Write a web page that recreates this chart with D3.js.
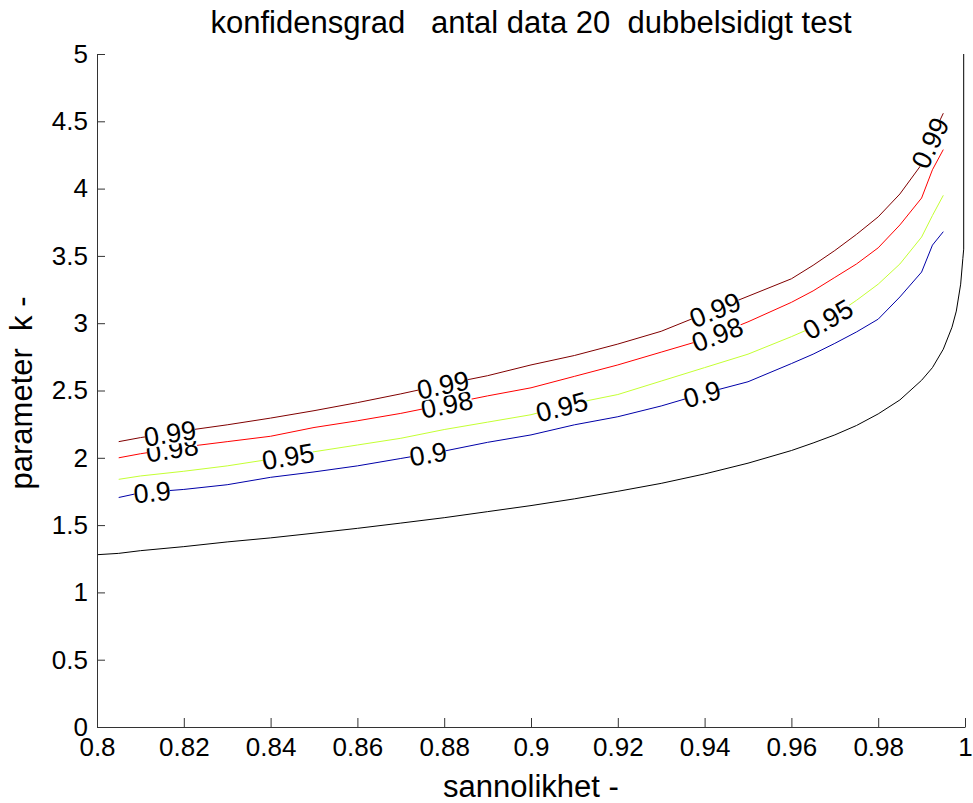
<!DOCTYPE html>
<html>
<head>
<meta charset="utf-8">
<script src="https://cdn.jsdelivr.net/npm/d3@7/dist/d3.min.js"></script>
<style>
  body { margin: 0; background: #fff; }
  text { font-family: "Liberation Sans", Arial, sans-serif; fill: #000; }
</style>
</head>
<body>
<div id="chart"></div>
<script>
// sannolikhet (x) for the coloured contours
var pGrid = [0.805, 0.81, 0.82, 0.83, 0.84, 0.85, 0.86, 0.87, 0.88, 0.89, 0.90, 0.91, 0.92,
  0.93, 0.94, 0.95, 0.96, 0.965, 0.97, 0.975, 0.98, 0.985, 0.99, 0.9925, 0.995];

// parameter k for each konfidensgrad
var k090 = [1.705, 1.74, 1.765, 1.80, 1.855, 1.895, 1.94, 1.995, 2.05, 2.115, 2.17, 2.245, 2.305,
  2.385, 2.48, 2.565, 2.70, 2.77, 2.85, 2.935, 3.03, 3.195, 3.38, 3.58, 3.68];
var k095 = [1.84, 1.865, 1.90, 1.94, 1.99, 2.045, 2.095, 2.145, 2.21, 2.265, 2.32, 2.405, 2.47,
  2.57, 2.67, 2.77, 2.90, 2.97, 3.06, 3.17, 3.29, 3.44, 3.64, 3.80, 3.95];
var k098 = [2.00, 2.03, 2.08, 2.12, 2.16, 2.225, 2.275, 2.33, 2.395, 2.46, 2.52, 2.605, 2.69,
  2.785, 2.88, 3.01, 3.155, 3.24, 3.34, 3.44, 3.56, 3.73, 3.93, 4.14, 4.29];
var k099 = [2.12, 2.15, 2.20, 2.245, 2.295, 2.35, 2.41, 2.475, 2.545, 2.61, 2.69, 2.76, 2.845,
  2.94, 3.07, 3.20, 3.33, 3.43, 3.54, 3.66, 3.79, 3.96, 4.18, 4.39, 4.56];

// black unlabelled contour
var pBase = [0.80, 0.805, 0.81, 0.82, 0.83, 0.84, 0.85, 0.86, 0.87, 0.88, 0.89, 0.90, 0.91, 0.92, 0.93,
  0.94, 0.95, 0.96, 0.965, 0.97, 0.975, 0.98, 0.985, 0.99, 0.9925, 0.995, 0.997, 0.998, 0.999,
  0.9995, 0.9997, 0.9997];
var kBase = [1.28, 1.29, 1.31, 1.34, 1.375, 1.405, 1.44, 1.476, 1.515, 1.555, 1.60, 1.645, 1.695, 1.751,
  1.81, 1.88, 1.96, 2.054, 2.11, 2.17, 2.24, 2.326, 2.43, 2.576, 2.67, 2.807, 2.97, 3.09, 3.29,
  3.48, 3.55, 5.0];

var levels = ["0.9", "0.95", "0.98", "0.99"];
var levelK = [k090, k095, k098, k099];
var levelColors = ["#0000a8", "#c4ff33", "#ff0000", "#800000"];
// x positions of the inline contour labels
var labelP = [
  [0.8127, 0.8763, 0.9394],
  [0.8440, 0.9071, 0.9684],
  [0.8173, 0.8806, 0.9429],
  [0.8168, 0.8797, 0.9424, 0.9919]
];

var xTicks = [0.8, 0.82, 0.84, 0.86, 0.88, 0.9, 0.92, 0.94, 0.96, 0.98, 1];
var yTicks = [0, 0.5, 1, 1.5, 2, 2.5, 3, 3.5, 4, 4.5, 5];

var W = 973, H = 803;
var margin = { top: 54, right: 8, bottom: 76, left: 97 };
var width = W - margin.left - margin.right,
  height = H - margin.top - margin.bottom;

var xScale = d3.scaleLinear().domain([0.8, 1]).range([0, width]);
var yScale = d3.scaleLinear().domain([0, 5]).range([height, 0]);

var svg = d3.select("#chart").append("svg")
  .attr("width", W)
  .attr("height", H);
var group = svg.append("g")
  .attr("transform", "translate(" + margin.left + "," + margin.top + ")");

var line = d3.line()
  .x(function (d) { return xScale(d[0]); })
  .y(function (d) { return yScale(d[1]); });

// black contour
group.append("path")
  .datum(d3.zip(pBase, kBase))
  .attr("fill", "none")
  .attr("stroke", "#000")
  .attr("stroke-width", 1)
  .attr("d", line);

// coloured contours
levels.forEach(function (lev, i) {
  group.append("path")
    .datum(d3.zip(pGrid, levelK[i]))
    .attr("fill", "none")
    .attr("stroke", levelColors[i])
    .attr("stroke-width", 1)
    .attr("d", line);
});

// inline labels (line is hidden under a white box, like clabel)
function kAt(ks, p) {
  var j = d3.bisectRight(pGrid, p) - 1;
  j = Math.max(0, Math.min(pGrid.length - 2, j));
  var t = (p - pGrid[j]) / (pGrid[j + 1] - pGrid[j]);
  return ks[j] + t * (ks[j + 1] - ks[j]);
}
levels.forEach(function (lev, i) {
  labelP[i].forEach(function (p) {
    var ks = levelK[i];
    var px = xScale(p), py = yScale(kAt(ks, p));
    var dp = 0.004;
    var x1 = xScale(p - dp), y1 = yScale(kAt(ks, p - dp));
    var x2 = xScale(p + dp), y2 = yScale(kAt(ks, p + dp));
    var ang = Math.atan2(y2 - y1, x2 - x1) * 180 / Math.PI;
    var g = group.append("g")
      .attr("transform", "translate(" + px + "," + py + ") rotate(" + ang + ")");
    var rect = g.append("rect").attr("fill", "#fff");
    var txt = g.append("text")
      .attr("text-anchor", "middle")
      .attr("dy", "0.36em")
      .style("font-size", "27px")
      .text(lev);
    var bb = txt.node().getBBox();
    rect.attr("x", bb.x + 1).attr("y", bb.y + 4)
      .attr("width", bb.width - 2).attr("height", bb.height - 8);
  });
});

// axes, MATLAB style ticks pointing inward
var xAxis = d3.axisBottom(xScale).tickValues(xTicks)
  .tickSizeInner(-9).tickSizeOuter(0)
  .tickFormat(function (d) { return d3.format("")(+d.toFixed(2)); });
var yAxis = d3.axisLeft(yScale).tickValues(yTicks)
  .tickSizeInner(-8).tickSizeOuter(0).tickPadding(9)
  .tickFormat(function (d) { return d3.format("")(d); });

var gx = group.append("g")
  .attr("transform", "translate(0," + height + ")")
  .call(xAxis);
var gy = group.append("g").call(yAxis);

[gx, gy].forEach(function (ax) {
  ax.select(".domain").attr("stroke", "#333");
  ax.selectAll(".tick line").attr("stroke", "#333");
  ax.selectAll(".tick text")
    .style("font-size", "26px")
    .style("font-family", "'Liberation Sans', Arial, sans-serif")
    .attr("fill", "#000");
});
gx.selectAll(".tick text").attr("y", 29).attr("dy", 0);

// title and axis labels
svg.append("text")
  .attr("x", margin.left + width / 2)
  .attr("y", 33)
  .attr("text-anchor", "middle")
  .style("font-size", "31px")
  .style("white-space", "pre")
  .attr("xml:space", "preserve")
  .text("konfidensgrad   antal data 20  dubbelsidigt test");

svg.append("text")
  .attr("x", margin.left + width / 2)
  .attr("y", 797)
  .attr("text-anchor", "middle")
  .style("font-size", "31px")
  .text("sannolikhet -");

svg.append("text")
  .attr("transform", "translate(32,393) rotate(-90)")
  .attr("text-anchor", "middle")
  .style("font-size", "31px")
  .style("white-space", "pre")
  .attr("xml:space", "preserve")
  .text("parameter  k -");
</script>
</body>
</html>
